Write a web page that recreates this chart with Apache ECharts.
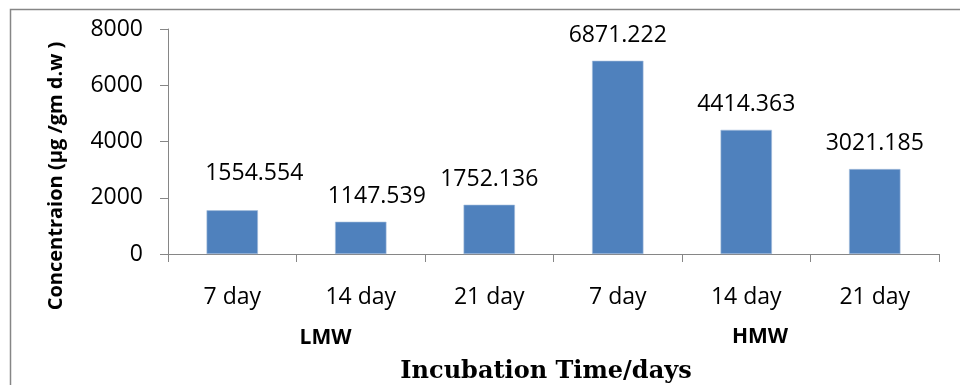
<!DOCTYPE html>
<html>
<head>
<meta charset="utf-8">
<script src="https://cdn.jsdelivr.net/npm/echarts@6/dist/echarts.min.js"></script>
<style>
html,body{margin:0;padding:0;background:#fff;}
#c{width:960px;height:385px;}
</style>
</head>
<body>
<div id="c"></div>
<script>
const categories = ['7 day', '14 day', '21 day', '7 day', '14 day', '21 day'];
const values = [1554.554, 1147.539, 1752.136, 6871.222, 4414.363, 3021.185];
const groupLabels = ['LMW', 'HMW'];
const yTicks = [0, 2000, 4000, 6000, 8000];
const labelOffsets = [[22, -11], [16, 0], [0, 0], [0, 0], [0, 0], [0, 0]];

const chart = echarts.init(document.getElementById('c'), null, {renderer: 'canvas'});
const gray = '#868686';
const font = 'Open Sans';

chart.setOption({
  animation: false,
  grid: {left: 168, right: 21, top: 29, bottom: 131, containLabel: false},
  xAxis: {
    type: 'category',
    data: categories,
    axisLine: {lineStyle: {color: gray, width: 1}},
    axisTick: {show: true, length: 8, alignWithLabel: false, lineStyle: {color: gray}},
    axisLabel: {color: '#000', fontFamily: font, fontSize: 23, margin: 32, interval: 0}
  },
  yAxis: {
    type: 'value',
    min: yTicks[0],
    max: yTicks[yTicks.length - 1],
    interval: 2000,
    axisLine: {show: true, lineStyle: {color: gray, width: 1}},
    axisTick: {show: true, length: 8, lineStyle: {color: gray}},
    splitLine: {show: false},
    axisLabel: {color: '#000', fontFamily: font, fontSize: 23, margin: 25, formatter: v => String(v)}
  },
  series: [{
    type: 'bar',
    data: values.map((v, i) => ({value: v, label: {offset: labelOffsets[i]}})),
    barCategoryGap: '60%',
    itemStyle: {color: '#4F81BD', borderColor: '#a8bfdc', borderWidth: 0.6},
    label: {
      show: true,
      position: 'top',
      distance: 14,
      color: '#000',
      fontFamily: font,
      fontSize: 23,
      formatter: p => values[p.dataIndex].toFixed(3)
    }
  }],
  graphic: [
    {type: 'rect', shape: {x: 10.5, y: 9.5, width: 1000, height: 500}, style: {fill: 'none', stroke: gray, lineWidth: 1.5}, z: -1},
    {type: 'text', x: 56, y: 176, rotation: Math.PI / 2,
     style: {text: 'Concentraion (µg /gm d.w )', fontFamily: font, fontWeight: 'bold', fontSize: 20, fill: '#000', textAlign: 'center', textVerticalAlign: 'middle'}},
    {type: 'text', x: 325.5, y: 338,
     style: {text: groupLabels[0], fontFamily: font, fontWeight: 'bold', fontSize: 21, fill: '#000', textAlign: 'center', textVerticalAlign: 'middle'}},
    {type: 'text', x: 760, y: 337,
     style: {text: groupLabels[1], fontFamily: font, fontWeight: 'bold', fontSize: 21, fill: '#000', textAlign: 'center', textVerticalAlign: 'middle'}},
    {type: 'text', x: 546, y: 372,
     style: {text: 'Incubation Time/days', fontFamily: 'DejaVu Serif', fontWeight: 'bold', fontSize: 24, fill: '#000', textAlign: 'center', textVerticalAlign: 'middle'}}
  ]
});
</script>
</body>
</html>
